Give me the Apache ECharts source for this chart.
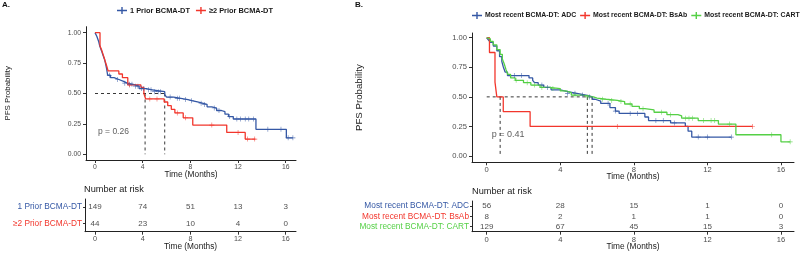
<!DOCTYPE html>
<html>
<head>
<meta charset="utf-8">
<script src="https://cdn.jsdelivr.net/npm/echarts@6/dist/echarts.min.js"></script>
<style>
  html, body { margin: 0; padding: 0; background: #fff; }
  #main { width: 800px; height: 253px; }
</style>
</head>
<body>
<div id="main"></div>
<script>
// ---- data ----
const riskTimes = [0, 4, 8, 12, 16];
const xTicks = [0, 4, 8, 12, 16];
const yTicks = [0, 0.25, 0.5, 0.75, 1];

// Panel A
const aNames = ['1 Prior BCMA-DT', '≥2 Prior BCMA-DT'];
const a1Time = [0, 0.15, 0.3, 0.4, 0.55, 0.65, 0.8, 0.9, 0.98, 1.06, 1.3, 1.6, 2.0, 2.4, 2.7, 3.2, 3.7, 4.3, 4.8, 5.85, 6.0, 6.6, 7.2, 7.8, 8.2, 8.6, 9.0, 9.4, 9.8, 10.2, 10.6, 10.9, 11.2, 11.6, 13.5, 16.05];
const a1Surv = [1.0, 0.97, 0.93, 0.89, 0.85, 0.82, 0.78, 0.74, 0.70, 0.65, 0.63, 0.615, 0.60, 0.585, 0.575, 0.56, 0.54, 0.53, 0.515, 0.49, 0.47, 0.46, 0.45, 0.44, 0.43, 0.42, 0.41, 0.39, 0.38, 0.36, 0.35, 0.33, 0.31, 0.29, 0.205, 0.135];
const a1End = 16.6;
const a1Cens = [1.2, 1.9, 2.5, 2.9, 3.1, 3.4, 3.6, 3.9, 4.1, 4.5, 4.7, 5.0, 5.3, 5.5, 6.3, 6.9, 7.1, 7.6, 8.1, 8.9, 9.2, 10.0, 10.4, 11.3, 11.9, 12.2, 12.6, 12.9, 13.3, 14.5, 15.6, 16.2, 16.6];
const a2Time = [0, 0.42, 0.55, 0.65, 0.78, 0.9, 1.0, 1.1, 2.0, 2.3, 2.75, 3.85, 4.1, 4.25, 5.8, 6.1, 6.4, 6.7, 7.4, 8.2, 11.05, 12.6];
const a2Surv = [1.0, 0.89, 0.86, 0.83, 0.79, 0.75, 0.72, 0.685, 0.66, 0.63, 0.57, 0.55, 0.50, 0.455, 0.43, 0.40, 0.37, 0.34, 0.30, 0.24, 0.18, 0.125];
const a2End = 13.45;
const a2Cens = [2.9, 4.6, 5.2, 6.9, 7.6, 9.8, 12.0, 12.8, 13.4];
const aMedians = [4.2, 5.85];
const aRisk1 = [149, 74, 51, 13, 3];
const aRisk2 = [44, 23, 10, 4, 0];
const aPval = 'p = 0.26';

// Panel B
const bNames = ['Most recent BCMA-DT: ADC', 'Most recent BCMA-DT: BsAb', 'Most recent BCMA-DT: CART'];
const b1Time = [0, 0.1, 0.2, 0.36, 0.55, 0.7, 0.82, 0.9, 1.0, 1.13, 2.3, 2.5, 2.6, 2.8, 3.1, 3.5, 4.0, 4.4, 4.9, 5.4, 5.75, 5.9, 6.2, 6.7, 7.0, 7.2, 8.6, 8.8, 10.0, 10.8, 10.95, 11.15];
const b1Surv = [1, 0.98, 0.96, 0.93, 0.89, 0.84, 0.80, 0.755, 0.71, 0.68, 0.66, 0.64, 0.62, 0.60, 0.58, 0.56, 0.545, 0.53, 0.515, 0.50, 0.48, 0.465, 0.445, 0.41, 0.38, 0.36, 0.33, 0.30, 0.28, 0.25, 0.21, 0.16];
const b1End = 13.3;
const b1Cens = [1.5, 1.9, 3.0, 3.3, 4.4, 4.8, 5.2, 5.6, 6.6, 7.0, 7.8, 8.2, 9.2, 9.6, 10.2, 11.5, 12.0, 13.3];
const b2Time = [0, 0.15, 0.45, 0.55, 0.9, 2.36];
const b2Surv = [1, 0.875, 0.625, 0.5, 0.375, 0.25];
const b2End = 14.45;
const b2Cens = [7.1, 14.45];
const b3Time = [0, 0.1, 0.2, 0.35, 0.55, 0.73, 0.85, 0.95, 1.05, 1.15, 1.3, 1.55, 2.0, 2.4, 2.9, 3.4, 4.0, 4.3, 4.6, 5.2, 5.8, 6.0, 6.5, 7.1, 7.5, 7.9, 8.3, 8.6, 9.1, 9.8, 10.4, 10.6, 11.5, 12.6, 13.55, 16.0];
const b3Surv = [1, 0.99, 0.97, 0.94, 0.90, 0.86, 0.82, 0.78, 0.73, 0.69, 0.66, 0.64, 0.62, 0.60, 0.58, 0.57, 0.55, 0.535, 0.515, 0.50, 0.49, 0.48, 0.47, 0.46, 0.44, 0.42, 0.40, 0.39, 0.37, 0.35, 0.34, 0.32, 0.30, 0.27, 0.18, 0.12];
const b3End = 16.5;
const b3Cens = [1.6, 2.2, 2.6, 3.0, 3.6, 4.8, 5.5, 6.3, 6.8, 7.3, 7.8, 8.5, 9.5, 10.0, 10.8, 11.0, 11.2, 11.8, 12.2, 12.4, 13.2, 15.5, 16.5];
const bMedians = [0.73, 5.47, 5.73];
const bRisk1 = [56, 28, 15, 1, 0];
const bRisk2 = [8, 2, 1, 1, 0];
const bRisk3 = [129, 67, 45, 15, 3];
const bPval = 'p = 0.41';

const BLUE = '#3558a5';
const RED = '#f2362c';
const GREEN = '#55d046';
const FONT = 'Liberation Sans, Arial, sans-serif';
const CROSS = 'path://M4.4,0H5.6V10H4.4Z M0,4.4H10V5.6H0Z';
const LEG_ICON = 'path://M0,4.3H10V5.7H0Z M4.3,1.5H5.7V8.5H4.3Z';

// ---- helpers ----
function steps(t, s, end) {
  const d = t.map((v, i) => [v, s[i]]);
  d.push([end, s[s.length - 1]]);
  return d;
}
function survAt(t, s, x) {
  let v = s[0];
  for (let i = 0; i < t.length; i++) if (t[i] <= x) v = s[i];
  return v;
}
function kmSeries(name, color, t, s, end, cens, gi) {
  return [
    {
      name: name, type: 'line', step: 'end', xAxisIndex: gi, yAxisIndex: gi,
      data: steps(t, s, end), showSymbol: false, silent: true,
      lineStyle: { color: color, width: 1.3 }, itemStyle: { color: color }, z: 3
    },
    {
      name: name, type: 'scatter', xAxisIndex: gi, yAxisIndex: gi,
      data: cens.map(c => [c, survAt(t, s, c)]),
      symbol: CROSS, symbolSize: 5, itemStyle: { color: color }, z: 4
    }
  ];
}
function medianSeries(meds, gi) {
  const last = Math.max.apply(null, meds);
  const lines = [[[0, 0.5], [last, 0.5]]].concat(meds.map(m => [[m, 0.5], [m, 0]]));
  return lines.map(d => ({
    type: 'line', xAxisIndex: gi, yAxisIndex: gi, data: d, showSymbol: false, silent: true,
    lineStyle: { color: '#222', width: 0.9, type: [3, 3] }, z: 2
  }));
}
function pvalSeries(text, x, y, gi, size) {
  return {
    type: 'scatter', xAxisIndex: gi, yAxisIndex: gi, data: [[x, y]], symbolSize: 0, silent: true,
    label: { show: true, position: 'right', distance: 0, formatter: text, fontSize: size, color: '#333', fontFamily: FONT }
  };
}
function riskSeries(rows, gi) {
  const data = [];
  rows.forEach((r, ri) => r.forEach((n, i) => data.push([riskTimes[i], ri, n])));
  return {
    type: 'scatter', xAxisIndex: gi, yAxisIndex: gi, data: data, symbolSize: 0, silent: true,
    label: { show: true, position: 'inside', formatter: p => p.value[2], fontSize: 8, color: '#222', fontFamily: FONT }
  };
}

const axisLine = { show: true, onZero: false, lineStyle: { color: '#222', width: 1 } };
const axisTick = { show: true, length: 3, lineStyle: { color: '#333' }, customValues: xTicks };

function xAxis(gi, min, max, fs, gap) {
  return {
    type: 'value', gridIndex: gi, min: min, max: max,
    axisLine: axisLine, axisTick: axisTick, splitLine: { show: false },
    axisLabel: { customValues: xTicks, color: '#4d4d4d', fontSize: fs, fontFamily: FONT, margin: 4 },
    name: 'Time (Months)', nameLocation: 'middle', nameGap: gap, nameMoveOverlap: false,
    nameTextStyle: { fontSize: 8.3, color: '#1a1a1a', fontFamily: FONT }
  };
}
function yAxis(gi, min, max, gap, fs, nfs) {
  return {
    type: 'value', gridIndex: gi, min: min, max: max,
    axisLine: axisLine, splitLine: { show: false },
    axisTick: Object.assign({}, axisTick, { customValues: yTicks }),
    axisLabel: { customValues: yTicks, formatter: v => v.toFixed(2), color: '#4d4d4d', fontSize: fs, fontFamily: FONT, margin: 5 },
    name: 'PFS Probability', nameLocation: 'middle', nameGap: gap, nameRotate: 90, nameMoveOverlap: false,
    nameTextStyle: { fontSize: nfs, color: '#1a1a1a', fontFamily: FONT }
  };
}
function riskY(gi, names, colors) {
  return {
    type: 'category', gridIndex: gi, data: names, inverse: true,
    axisLine: axisLine, axisTick: { show: true, length: 2, alignWithLabel: true, interval: 0, lineStyle: { color: '#333' } },
    axisLabel: { fontSize: 8.3, fontFamily: FONT, margin: 3, interval: 0, color: (v, i) => colors[i] }
  };
}

const chart = echarts.init(document.getElementById('main'));
const option = {
  animation: false,
  textStyle: { fontFamily: FONT },
  title: [
    { text: 'A.', left: 2, top: 1, padding: 0, textStyle: { fontSize: 8, fontWeight: 'bold', color: '#111' } },
    { text: 'B.', left: 355, top: 1, padding: 0, textStyle: { fontSize: 8, fontWeight: 'bold', color: '#111' } },
    { text: 'Number at risk', left: 84, top: 185, padding: 0, textStyle: { fontSize: 9.2, fontWeight: 'normal', color: '#1a1a1a' } },
    { text: 'Number at risk', left: 472, top: 187, padding: 0, textStyle: { fontSize: 9.2, fontWeight: 'normal', color: '#1a1a1a' } }
  ],
  legend: [
    {
      data: aNames, left: 117, top: 7, padding: 0, itemWidth: 10, itemHeight: 8, itemGap: 6, icon: LEG_ICON,
      textStyle: { fontSize: 7.4, fontWeight: 'bold', color: '#1a1a1a', padding: [0, 0, 0, -2] }
    },
    {
      data: bNames, left: 472, top: 12, width: 380, padding: 0, itemWidth: 10, itemHeight: 8, itemGap: 4, icon: LEG_ICON,
      textStyle: { fontSize: 6.9, fontWeight: 'bold', color: '#1a1a1a', padding: [0, 0, 0, -2] }
    }
  ],
  grid: [
    { left: 86, top: 26.7, width: 210, height: 133.3, outerBoundsMode: 'none' },
    { left: 472, top: 33, width: 322, height: 129.3, outerBoundsMode: 'none' },
    { left: 85, top: 199, width: 211, height: 32.7, outerBoundsMode: 'none' },
    { left: 472, top: 201, width: 322, height: 30.7, outerBoundsMode: 'none' }
  ],
  xAxis: [
    xAxis(0, -0.755, 16.86, 6.8, 11),
    xAxis(1, -0.8, 16.71, 7.6, 10),
    xAxis(2, -0.84, 16.86, 7.2, 11),
    xAxis(3, -0.8, 16.71, 7.6, 11)
  ],
  yAxis: [
    yAxis(0, -0.047, 1.049, 74, 6.8, 7.9),
    yAxis(1, -0.053, 1.04, 108, 7.6, 9.7),
    riskY(2, aNames, [BLUE, RED]),
    riskY(3, bNames, [BLUE, RED, GREEN])
  ],
  series: [].concat(
    medianSeries(aMedians, 0),
    kmSeries(aNames[0], BLUE, a1Time, a1Surv, a1End, a1Cens, 0),
    kmSeries(aNames[1], RED, a2Time, a2Surv, a2End, a2Cens, 0),
    pvalSeries(aPval, 0.25, 0.19, 0, 8.5),
    medianSeries(bMedians, 1),
    kmSeries(bNames[0], BLUE, b1Time, b1Surv, b1End, b1Cens, 1),
    kmSeries(bNames[1], RED, b2Time, b2Surv, b2End, b2Cens, 1),
    kmSeries(bNames[2], GREEN, b3Time, b3Surv, b3End, b3Cens, 1),
    pvalSeries(bPval, 0.27, 0.18, 1, 9),
    riskSeries([aRisk1, aRisk2], 2),
    riskSeries([bRisk1, bRisk2, bRisk3], 3)
  )
};
chart.setOption(option);
</script>
</body>
</html>
